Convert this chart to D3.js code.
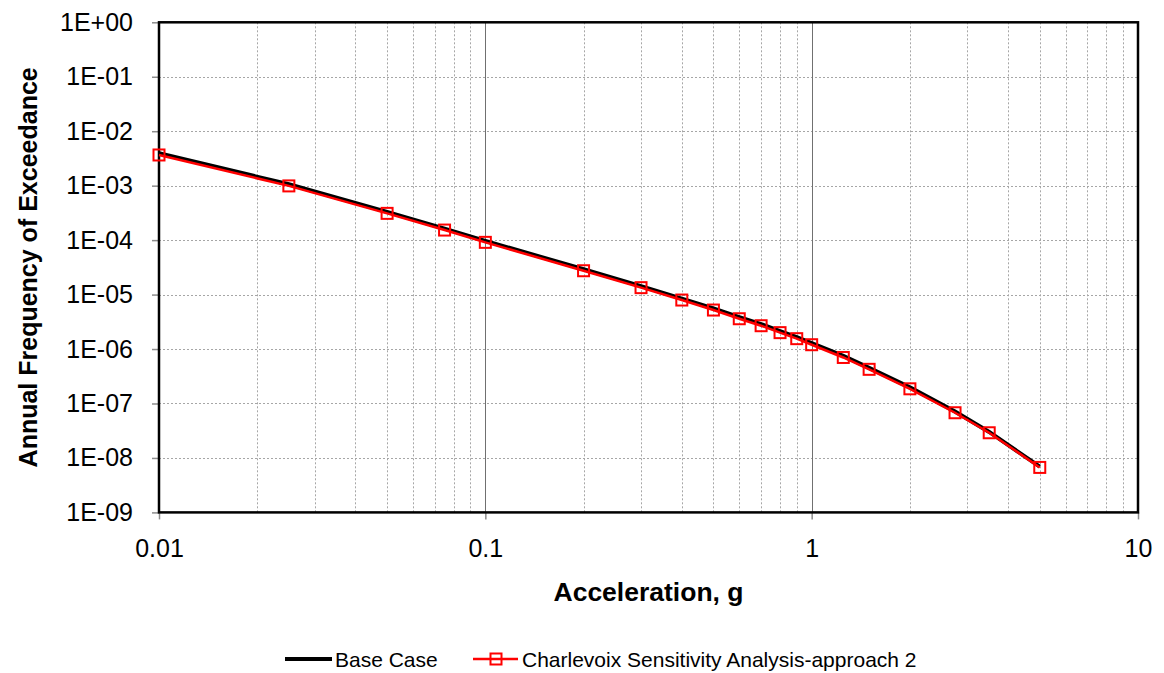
<!DOCTYPE html>
<html>
<head>
  <meta charset="utf-8">
  <title>Annual Frequency of Exceedance</title>
  <script src="https://cdn.jsdelivr.net/npm/d3@7"></script>
  <style>
    body { margin: 0; background: #fff; }
    svg { display: block; font-family: "Liberation Sans", Arial, sans-serif; }
  </style>
</head>
<body>
  <div id="chart"></div>
  <script>
    // acceleration (g) sample points
    var accel = [0.01, 0.025, 0.05, 0.075, 0.1, 0.2, 0.3, 0.4, 0.5, 0.6, 0.7, 0.8, 0.9, 1.0, 1.25, 1.5, 2.0, 2.75, 3.5, 5.0];
    // base case (black line)
    var baseCase = [3.95e-3, 1.06e-3, 3.3e-4, 1.63e-4, 9.7e-5, 2.92e-5, 1.43e-5, 8.45e-6, 5.55e-6, 3.85e-6, 2.86e-6, 2.14e-6, 1.66e-6, 1.29e-6, 7.5e-7, 4.52e-7, 1.98e-7, 7.1e-8, 3.0e-8, 6.9e-9];
    // Charlevoix sensitivity analysis - approach 2 (red squares)
    var charlevoix = [3.66e-3, 9.9e-4, 3.1e-4, 1.53e-4, 9.1e-5, 2.74e-5, 1.34e-5, 7.94e-6, 5.2e-6, 3.6e-6, 2.68e-6, 2.0e-6, 1.55e-6, 1.2e-6, 7.0e-7, 4.24e-7, 1.86e-7, 6.76e-8, 2.9e-8, 6.7e-9];

    var xTicks = [0.01, 0.1, 1, 10];
    var xTickLabels = ["0.01", "0.1", "1", "10"];
    var yTicks = [1, 1e-1, 1e-2, 1e-3, 1e-4, 1e-5, 1e-6, 1e-7, 1e-8, 1e-9];
    var yTickLabels = ["1E+00", "1E-01", "1E-02", "1E-03", "1E-04", "1E-05", "1E-06", "1E-07", "1E-08", "1E-09"];

    var width = 1164, height = 673;
    var plotLeft = 159, plotRight = 1138, plotTop = 22.3, plotBottom = 512.4;

    var svg = d3.select("#chart").append("svg")
        .attr("width", width)
        .attr("height", height);

    var x = d3.scaleLog().domain([0.01, 10]).range([plotLeft, plotRight]);
    var y = d3.scaleLog().domain([1, 1e-9]).range([plotTop, plotBottom]);

    // minor vertical grid (2..9 in every decade)
    var minor = [];
    [0.01, 0.1, 1].forEach(function(d) {
      for (var k = 2; k <= 9; k++) minor.push(d * k);
    });

    var grid = svg.append("g");
    grid.selectAll("line.minor")
      .data(minor)
      .enter().append("line")
        .attr("class", "minor")
        .attr("x1", function(d) { return Math.round(x(d)) + 0.5; })
        .attr("x2", function(d) { return Math.round(x(d)) + 0.5; })
        .attr("y1", plotTop)
        .attr("y2", plotBottom)
        .attr("stroke", "#a6a6a6")
        .attr("stroke-width", 1)
        .attr("stroke-dasharray", "2,2");

    grid.selectAll("line.hgrid")
      .data(yTicks.slice(1, -1))
      .enter().append("line")
        .attr("class", "hgrid")
        .attr("x1", plotLeft)
        .attr("x2", plotRight)
        .attr("y1", function(d) { return Math.round(y(d)) + 0.5; })
        .attr("y2", function(d) { return Math.round(y(d)) + 0.5; })
        .attr("stroke", "#a6a6a6")
        .attr("stroke-width", 1)
        .attr("stroke-dasharray", "2,2");

    grid.selectAll("line.major")
      .data([0.1, 1])
      .enter().append("line")
        .attr("class", "major")
        .attr("x1", function(d) { return Math.round(x(d)) + 0.5; })
        .attr("x2", function(d) { return Math.round(x(d)) + 0.5; })
        .attr("y1", plotTop)
        .attr("y2", plotBottom)
        .attr("stroke", "#707070")
        .attr("stroke-width", 1);

    // axes (ticks outside, grey)
    var xAxis = d3.axisBottom(x)
        .tickValues(xTicks)
        .tickSize(7)
        .tickPadding(20)
        .tickFormat(function(d, i) { return xTickLabels[i]; });
    var gx = svg.append("g")
        .attr("transform", "translate(0," + plotBottom + ")")
        .call(xAxis);

    var yAxis = d3.axisLeft(y)
        .tickValues(yTicks)
        .tickSize(7)
        .tickPadding(19)
        .tickFormat(function(d, i) { return yTickLabels[i]; });
    var gy = svg.append("g")
        .attr("transform", "translate(" + plotLeft + ",0)")
        .call(yAxis);

    [gx, gy].forEach(function(g) {
      g.select(".domain").remove();
      g.selectAll(".tick line").attr("stroke", "#8c8c8c").attr("stroke-width", 1.5);
      g.selectAll(".tick text")
        .attr("fill", "#000")
        .style("font-size", "25px")
        .style("font-family", "'Liberation Sans', Arial, sans-serif");
    });

    // plot frame
    svg.append("rect")
        .attr("x", plotLeft)
        .attr("y", plotTop)
        .attr("width", plotRight - plotLeft)
        .attr("height", plotBottom - plotTop)
        .attr("fill", "none")
        .attr("stroke", "#000")
        .attr("stroke-width", 2.5);

    var line = d3.line()
        .x(function(d) { return x(d[0]); })
        .y(function(d) { return y(d[1]); });

    var baseData = accel.map(function(a, i) { return [a, baseCase[i]]; });
    var charData = accel.map(function(a, i) { return [a, charlevoix[i]]; });

    svg.append("path")
        .datum(baseData)
        .attr("d", line)
        .attr("fill", "none")
        .attr("stroke", "#000")
        .attr("stroke-width", 4);

    svg.append("path")
        .datum(charData)
        .attr("d", line)
        .attr("fill", "none")
        .attr("stroke", "#ff0000")
        .attr("stroke-width", 2.5);

    var ms = 11;
    svg.selectAll("rect.mark")
      .data(charData)
      .enter().append("rect")
        .attr("class", "mark")
        .attr("x", function(d) { return x(d[0]) - ms / 2; })
        .attr("y", function(d) { return y(d[1]) - ms / 2; })
        .attr("width", ms)
        .attr("height", ms)
        .attr("fill", "none")
        .attr("stroke", "#ff0000")
        .attr("stroke-width", 2);

    // axis titles
    svg.append("text")
        .attr("x", (plotLeft + plotRight) / 2)
        .attr("y", 601)
        .attr("text-anchor", "middle")
        .style("font-size", "26.5px")
        .style("font-weight", "bold")
        .text("Acceleration, g");

    svg.append("text")
        .attr("transform", "translate(37," + (plotTop + plotBottom) / 2 + ") rotate(-90)")
        .attr("text-anchor", "middle")
        .style("font-size", "25px")
        .style("font-weight", "bold")
        .text("Annual Frequency of Exceedance");

    // legend
    var legend = svg.append("g");
    legend.append("line")
        .attr("x1", 285).attr("x2", 332)
        .attr("y1", 659).attr("y2", 659)
        .attr("stroke", "#000").attr("stroke-width", 4);
    legend.append("text")
        .attr("x", 335).attr("y", 667)
        .style("font-size", "21px")
        .text("Base Case");
    legend.append("line")
        .attr("x1", 473).attr("x2", 518)
        .attr("y1", 659).attr("y2", 659)
        .attr("stroke", "#ff0000").attr("stroke-width", 2.5);
    legend.append("rect")
        .attr("x", 496 - ms / 2).attr("y", 659 - ms / 2)
        .attr("width", ms).attr("height", ms)
        .attr("fill", "none")
        .attr("stroke", "#ff0000").attr("stroke-width", 2);
    legend.append("text")
        .attr("x", 522).attr("y", 667)
        .style("font-size", "21px")
        .text("Charlevoix Sensitivity Analysis-approach 2");
  </script>
</body>
</html>
